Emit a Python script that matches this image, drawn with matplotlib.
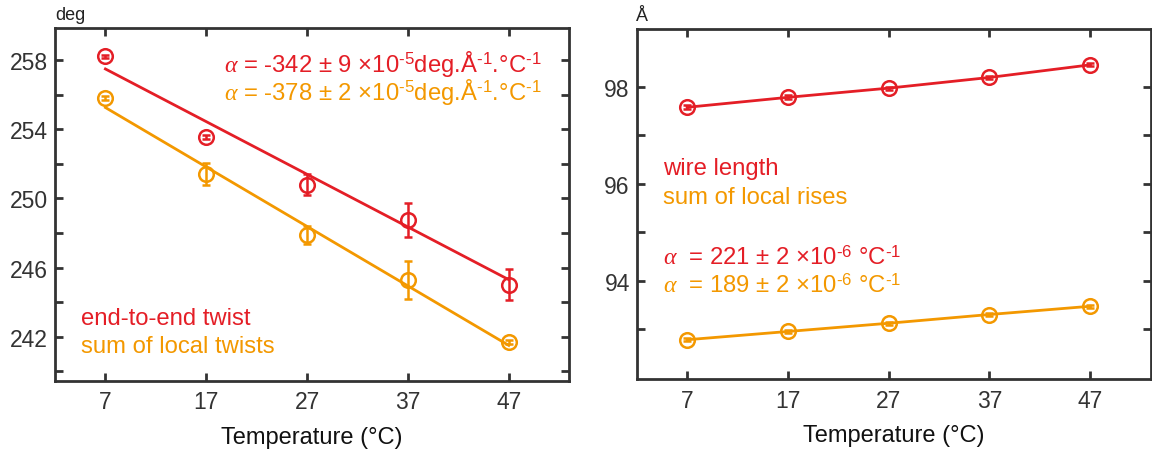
import numpy as np
import matplotlib
matplotlib.use('Agg')
import matplotlib.pyplot as plt

plt.rcParams['font.family'] = ['Liberation Sans', 'DejaVu Sans']
plt.rcParams['mathtext.fontset'] = 'custom'
plt.rcParams['mathtext.rm'] = 'Liberation Sans'
plt.rcParams['mathtext.it'] = 'Liberation Serif:italic'

RED = '#e41e26'
ORANGE = '#f39800'
DARK = '#333333'

temps = [7, 17, 27, 37, 47]

# left panel: twist (deg)
twist_e2e = [258.2, 253.55, 250.8, 248.75, 245.0]
twist_e2e_err = [0.1, 0.1, 0.6, 1.0, 0.9]
twist_local = [255.8, 251.4, 247.9, 245.3, 241.7]
twist_local_err = [0.1, 0.65, 0.52, 1.1, 0.1]
fit_x = [7, 47]
fit_e2e = [257.48, 245.3]
fit_local = [255.25, 241.5]

# right panel: length (A)
wire_len = [97.575, 97.78, 97.97, 98.19, 98.45]
wire_len_err = [0.04, 0.04, 0.03, 0.03, 0.03]
local_rise = [92.78, 92.95, 93.12, 93.30, 93.47]
local_rise_err = [0.03, 0.03, 0.03, 0.03, 0.03]

TXT = 17.2


def style_axes(ax):
    for s in ax.spines.values():
        s.set_linewidth(2)
        s.set_color(DARK)
    ax.tick_params(which='both', direction='in', top=True, right=True,
                   width=2, length=5.5, color=DARK, labelsize=16.5,
                   labelcolor=DARK, pad=5)
    ax.tick_params(axis='x', pad=7)
    ax.set_xlim(2, 53)
    ax.set_xticks(temps)
    ax.set_xlabel('Temperature (°C)', fontsize=17, labelpad=9, color='#111111')


def draw_err(ax, x, y, e, c):
    ax.errorbar(x, y, yerr=e, fmt='o', mfc='none', mec=c, ms=10.5, mew=1.8,
                ecolor=c, elinewidth=1.8, capsize=3, capthick=1.8, zorder=3)


fig = plt.figure(figsize=(11.52, 4.52), dpi=100)
W, H = 1152, 452
ax1 = fig.add_axes([55 / W, 1 - 381.7 / H, 514.3 / W, 352.4 / H])
ax2 = fig.add_axes([636.7 / W, 1 - 380 / H, 513.8 / W, 350 / H])

# left
ax1.plot(fit_x, fit_e2e, color=RED, lw=2)
ax1.plot(fit_x, fit_local, color=ORANGE, lw=2)
draw_err(ax1, temps, twist_e2e, twist_e2e_err, RED)
draw_err(ax1, temps, twist_local, twist_local_err, ORANGE)
ax1.set_ylim(239.46, 259.83)
ax1.set_yticks([242, 246, 250, 254, 258])
ax1.set_yticks([240, 244, 248, 252, 256], minor=True)
style_axes(ax1)
fig.text(55 / W, 1 - 20 / H, 'deg', fontsize=13, ha='left', va='baseline',
         color='#222222')
ax1.text(0.329, 0.8797,
         r'$\mathit{\alpha}$ = -342 ± 9 ×10$^{\text{-5}}$deg.Å$^{\text{-1}}$.°C$^{\text{-1}}$',
         transform=ax1.transAxes, fontsize=TXT, color=RED, ha='left', va='baseline')
ax1.text(0.329, 0.7994,
         r'$\mathit{\alpha}$ = -378 ± 2 ×10$^{\text{-5}}$deg.Å$^{\text{-1}}$.°C$^{\text{-1}}$',
         transform=ax1.transAxes, fontsize=TXT, color=ORANGE, ha='left', va='baseline')
ax1.text(0.0506, 0.161, 'end-to-end twist', transform=ax1.transAxes,
         fontsize=TXT, color=RED, ha='left', va='baseline')
ax1.text(0.0506, 0.0806, 'sum of local twists', transform=ax1.transAxes,
         fontsize=TXT, color=ORANGE, ha='left', va='baseline')

# right
ax2.plot(temps, wire_len, color=RED, lw=2)
ax2.plot(temps, local_rise, color=ORANGE, lw=2)
draw_err(ax2, temps, wire_len, wire_len_err, RED)
draw_err(ax2, temps, local_rise, local_rise_err, ORANGE)
ax2.set_ylim(91.97, 99.19)
ax2.set_yticks([94, 96, 98])
ax2.set_yticks([93, 95, 97], minor=True)
style_axes(ax2)
fig.text(636 / W, 1 - 20.7 / H, 'Å', fontsize=13, ha='left', va='baseline',
         color='#222222')
ax2.text(0.0518, 0.5857, 'wire length', transform=ax2.transAxes,
         fontsize=TXT, color=RED, ha='left', va='baseline')
ax2.text(0.0518, 0.503, 'sum of local rises', transform=ax2.transAxes,
         fontsize=TXT, color=ORANGE, ha='left', va='baseline')
ax2.text(0.0518, 0.3286, r'$\mathit{\alpha}$  = 221 ± 2 ×10$^{\text{-6}}$ °C$^{\text{-1}}$',
         transform=ax2.transAxes, fontsize=TXT, color=RED, ha='left', va='baseline')
ax2.text(0.0518, 0.2476, r'$\mathit{\alpha}$  = 189 ± 2 ×10$^{\text{-6}}$ °C$^{\text{-1}}$',
         transform=ax2.transAxes, fontsize=TXT, color=ORANGE, ha='left', va='baseline')

fig.savefig('out.png', dpi=100)
